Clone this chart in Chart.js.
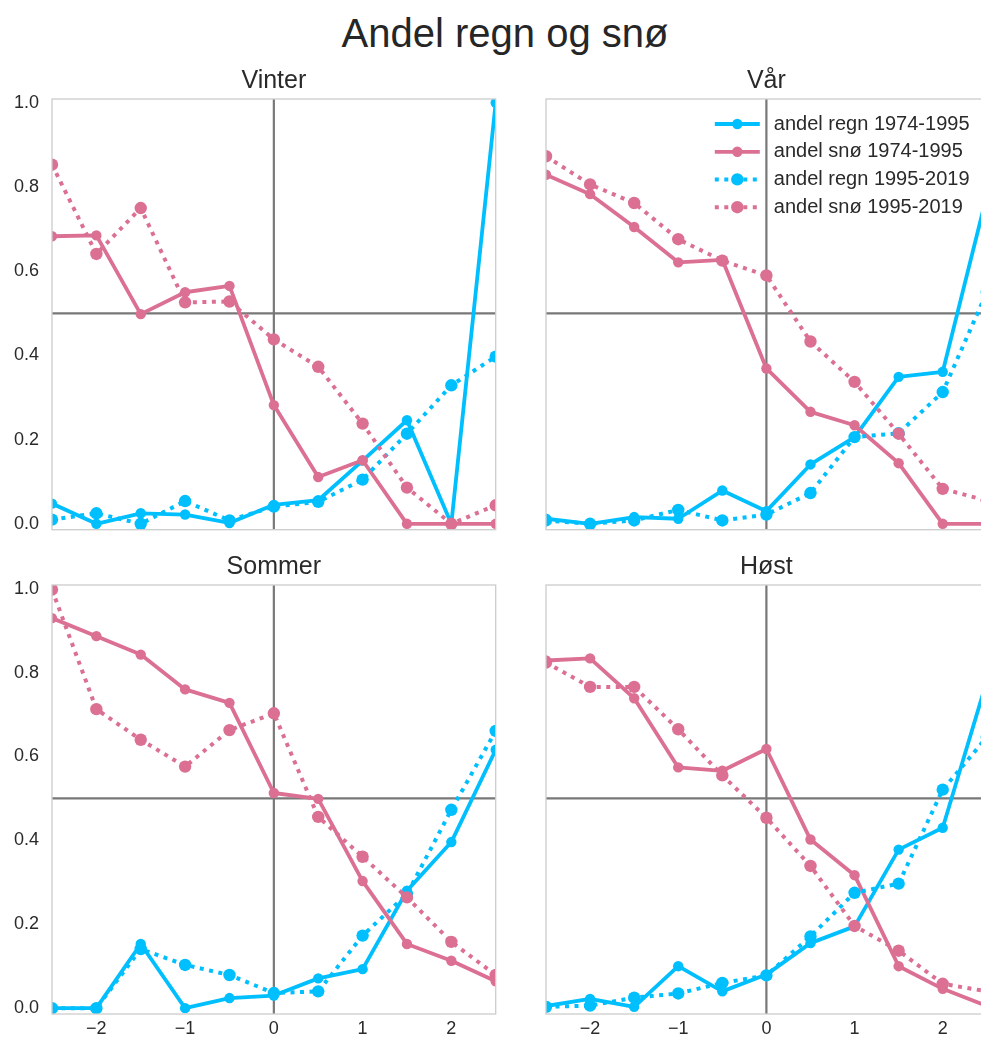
<!DOCTYPE html>
<html>
<head>
<meta charset="utf-8">
<script src="https://cdn.jsdelivr.net/npm/chart.js@4.4.0/dist/chart.umd.min.js"></script>
<style>
  html, body { margin: 0; padding: 0; background: #ffffff; }
  body { position: relative; width: 981px; height: 1039px; overflow: hidden; }
  #suptitle {
    position: absolute; left: 0; top: 13px; width: 1010px;
    text-align: center; font-family: "Liberation Sans", Arial, sans-serif;
    font-size: 40px; line-height: 40px; color: #262626;
  }
  canvas { position: absolute; }
</style>
</head>
<body>
<div id="suptitle">Andel regn og snø</div>
<script>
// Temperature classes along the x axis (°C)
const xValues = [-2.5, -2, -1.5, -1, -0.5, 0, 0.5, 1, 1.5, 2, 2.5];

const seasons = ['Vinter', 'Vår', 'Sommer', 'Høst'];
const seriesLabels = ['andel regn 1974-1995', 'andel snø 1974-1995', 'andel regn 1995-2019', 'andel snø 1995-2019'];

const yTickValues = [0, 0.2, 0.4, 0.6, 0.8, 1.0];
const yTickLabels = ['0.0', '0.2', '0.4', '0.6', '0.8', '1.0'];
const xTickValues = [-2, -1, 0, 1, 2];
const xTickLabels = ['\u22122', '\u22121', '0', '1', '2'];

// Vinter
const vinterRegn1974 = [0.048, 0.0, 0.025, 0.022, 0.002, 0.045, 0.056, 0.150, 0.246, 0.0, 1.0];
const vinterSno1974  = [0.683, 0.685, 0.498, 0.550, 0.565, 0.282, 0.111, 0.151, 0.0, 0.0, 0.0];
const vinterRegn1995 = [0.010, 0.025, 0.0, 0.054, 0.008, 0.041, 0.052, 0.105, 0.214, 0.329, 0.397];
const vinterSno1995  = [0.853, 0.641, 0.750, 0.526, 0.528, 0.438, 0.373, 0.238, 0.086, 0.0, 0.044];

// Vår
const varRegn1974 = [0.012, 0.0, 0.016, 0.012, 0.079, 0.030, 0.141, 0.206, 0.349, 0.361, 0.78];
const varSno1974  = [0.829, 0.783, 0.705, 0.621, 0.627, 0.369, 0.266, 0.234, 0.144, 0.0, 0.0];
const varRegn1995 = [0.008, 0.0, 0.008, 0.033, 0.008, 0.022, 0.073, 0.206, 0.215, 0.313, 0.55];
const varSno1995  = [0.873, 0.806, 0.762, 0.676, 0.625, 0.590, 0.433, 0.337, 0.214, 0.083, 0.055];

// Sommer
const sommerRegn1974 = [0.0, 0.0, 0.153, 0.0, 0.024, 0.030, 0.071, 0.093, 0.280, 0.396, 0.616];
const sommerSno1974  = [0.930, 0.887, 0.843, 0.760, 0.728, 0.513, 0.499, 0.303, 0.153, 0.113, 0.064];
const sommerRegn1995 = [0.0, 0.0, 0.141, 0.103, 0.079, 0.036, 0.040, 0.173, 0.272, 0.473, 0.661];
const sommerSno1995  = [0.998, 0.713, 0.640, 0.576, 0.663, 0.703, 0.456, 0.361, 0.264, 0.158, 0.079];

// Høst
const hostRegn1974 = [0.005, 0.022, 0.003, 0.100, 0.040, 0.080, 0.155, 0.195, 0.378, 0.430, 0.78];
const hostSno1974  = [0.829, 0.834, 0.739, 0.574, 0.566, 0.618, 0.402, 0.317, 0.100, 0.046, 0.005];
const hostRegn1995 = [0.003, 0.006, 0.025, 0.035, 0.060, 0.078, 0.171, 0.275, 0.297, 0.521, 0.646];
const hostSno1995  = [0.824, 0.766, 0.766, 0.665, 0.555, 0.454, 0.339, 0.196, 0.137, 0.058, 0.040];

const seasonSeries = [
  [vinterRegn1974, vinterSno1974, vinterRegn1995, vinterSno1995],
  [varRegn1974, varSno1974, varRegn1995, varSno1995],
  [sommerRegn1974, sommerSno1974, sommerRegn1995, sommerSno1995],
  [hostRegn1974, hostSno1974, hostRegn1995, hostSno1995]
];

const RAIN = '#00bfff';
const SNOW = '#db7093';
const FONT = '"Liberation Sans", Arial, sans-serif';
const TEXT = '#2a2a2a';

// Line style per series: solid for 1974-1995, dotted for 1995-2019
const seriesStyles = [
  { color: RAIN, width: 3.8, dash: [], radius: 5.2, order: 3 },
  { color: SNOW, width: 3.8, dash: [], radius: 5.2, order: 2 },
  { color: RAIN, width: 4, dash: [4, 5.5], radius: 6.2, order: 1 },
  { color: SNOW, width: 4, dash: [4, 5.5], radius: 6.2, order: 0 }
];

// Plot-area rectangles (left, top, right, bottom) for the 2x2 grid
const colX = [[52, 495.7], [546, 987.3]];
const rowY = [[99.3, 530], [585, 1014]];
const PAD = { left: 52, top: 45, right: 6, bottom: 28 };

function drawText(ctx, text, x, y, size, align, baseline) {
  ctx.save();
  ctx.font = size + 'px ' + FONT;
  ctx.fillStyle = TEXT;
  ctx.textAlign = align;
  ctx.textBaseline = baseline;
  ctx.fillText(text, x, y);
  ctx.restore();
}

const panelDecor = {
  id: 'panelDecor',
  beforeDatasetsDraw(chart, args, opts) {
    const { ctx, chartArea: a } = chart;
    const xs = chart.scales.x, ys = chart.scales.y;
    const px = xs.getPixelForValue(0);
    const py = ys.getPixelForValue(0.5);
    ctx.save();
    ctx.strokeStyle = '#787878';
    ctx.lineWidth = 2.2;
    ctx.beginPath();
    ctx.moveTo(px, a.top); ctx.lineTo(px, a.bottom);
    ctx.moveTo(a.left, py); ctx.lineTo(a.right, py);
    ctx.stroke();
    ctx.restore();
  },
  afterDraw(chart, args, opts) {
    const { ctx, chartArea: a } = chart;
    const xs = chart.scales.x, ys = chart.scales.y;
    // frame
    ctx.save();
    ctx.strokeStyle = '#cccccc';
    ctx.lineWidth = 1.3;
    ctx.strokeRect(a.left, a.top, a.right - a.left, a.bottom - a.top);
    ctx.restore();
    // panel title
    drawText(ctx, opts.title, (a.left + a.right) / 2, a.top - 11, 25, 'center', 'alphabetic');
    // tick labels
    if (opts.showY) {
      yTickValues.forEach((v, i) => {
        drawText(ctx, yTickLabels[i], a.left - 13, ys.getPixelForValue(v), 18, 'right', 'middle');
      });
    }
    if (opts.showX) {
      xTickValues.forEach((v, i) => {
        drawText(ctx, xTickLabels[i], xs.getPixelForValue(v), a.bottom + 20, 18, 'center', 'alphabetic');
      });
    }
    // legend
    if (opts.legend) {
      const rows = [25, 52.8, 80.4, 108.2];
      const x1 = a.right - 272, x2 = a.right - 227, tx = a.right - 213;
      chart.data.datasets.forEach((ds, i) => {
        const y = a.top + rows[i];
        ctx.save();
        ctx.strokeStyle = ds.borderColor;
        ctx.lineWidth = ds.borderWidth;
        ctx.setLineDash(ds.borderDash);
        ctx.lineCap = 'butt';
        ctx.beginPath();
        ctx.moveTo(x1, y); ctx.lineTo(x2, y);
        ctx.stroke();
        ctx.setLineDash([]);
        ctx.fillStyle = ds.borderColor;
        ctx.beginPath();
        ctx.arc((x1 + x2) / 2, y, ds.pointRadius, 0, Math.PI * 2);
        ctx.fill();
        ctx.restore();
        drawText(ctx, ds.label, tx, y, 20, 'left', 'middle');
      });
    }
  }
};

seasons.forEach((season, k) => {
  const col = k % 2, row = Math.floor(k / 2);
  const [l, r] = colX[col];
  const [t, b] = rowY[row];
  const canvas = document.createElement('canvas');
  const w = Math.round(r - l + PAD.left + PAD.right);
  const h = Math.round(b - t + PAD.top + PAD.bottom);
  canvas.width = w;
  canvas.height = h;
  canvas.style.left = (l - PAD.left) + 'px';
  canvas.style.top = (t - PAD.top) + 'px';
  canvas.style.width = w + 'px';
  canvas.style.height = h + 'px';
  document.body.appendChild(canvas);

  const datasets = seasonSeries[k].map((values, i) => {
    const s = seriesStyles[i];
    return {
      label: seriesLabels[i],
      data: xValues.map((x, j) => ({ x: x, y: values[j] })),
      borderColor: s.color,
      backgroundColor: s.color,
      borderWidth: s.width,
      borderDash: s.dash,
      borderCapStyle: 'butt',
      borderJoinStyle: 'round',
      pointRadius: s.radius,
      pointBackgroundColor: s.color,
      pointBorderWidth: 0,
      tension: 0,
      clip: 0,
      order: s.order
    };
  });

  new Chart(canvas, {
    type: 'line',
    data: { datasets: datasets },
    options: {
      responsive: false,
      animation: false,
      devicePixelRatio: 1,
      events: [],
      layout: {
        padding: {
          left: PAD.left,
          top: PAD.top,
          right: w - PAD.left - (r - l),
          bottom: h - PAD.top - (b - t)
        }
      },
      scales: {
        x: { type: 'linear', display: false, min: -2.5, max: 2.5 },
        y: { type: 'linear', display: false, min: -0.014, max: 1.009 }
      },
      plugins: {
        legend: { display: false },
        tooltip: { enabled: false },
        panelDecor: {
          title: season,
          showY: col === 0,
          showX: row === 1,
          legend: k === 1
        }
      }
    },
    plugins: [panelDecor]
  });
});
</script>
</body>
</html>
